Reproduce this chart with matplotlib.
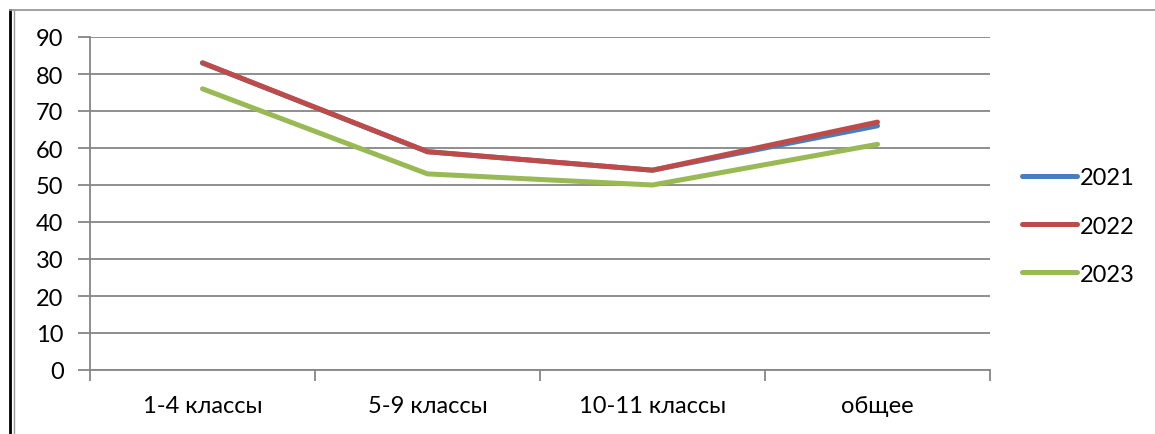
import matplotlib
matplotlib.use("Agg")
import matplotlib.pyplot as plt
from matplotlib.lines import Line2D

categories = ["1-4 классы", "5-9 классы", "10-11 классы", "общее"]
years = ["2021", "2022", "2023"]
v2021 = [83, 59, 54, 66]
v2022 = [83, 59, 54, 67]
v2023 = [76, 53, 50, 61]
series = [v2021, v2022, v2023]
colors = ["#4a7ebb", "#be4b48", "#98b954"]
yticks = [0, 10, 20, 30, 40, 50, 60, 70, 80, 90]

plt.rcParams['font.family'] = ['Lato', 'DejaVu Sans']
FS = 17

W, H = 1155, 435
fig = plt.figure(figsize=(W / 100, H / 100), dpi=100)
ax = fig.add_axes([90 / W, 1 - 371 / H, 900 / W, 333 / H])

x = list(range(len(categories)))
for vals, c, lab in zip(series, colors, years):
    ax.plot(x, vals, color=c, lw=3.6, solid_capstyle='round', label=lab, zorder=3)

ax.set_xlim(-0.5, len(categories) - 0.5)
ax.set_ylim(0, 90)
ax.set_yticks(yticks)
ax.set_yticklabels([str(t) for t in yticks], fontsize=FS)
ax.yaxis.grid(True, color="#868686", lw=1.3)
ax.set_axisbelow(True)

ax.set_xticks([i - 0.5 for i in range(len(categories) + 1)])
ax.set_xticklabels([])
ax.set_xticks(x, minor=True)
ax.set_xticklabels(categories, minor=True, fontsize=FS)
ax.tick_params(axis='x', which='major', length=8, color="#868686", width=1.3, direction='out')
ax.tick_params(axis='x', which='minor', length=0, pad=18)
ax.tick_params(axis='y', length=9, color="#868686", width=1.3, pad=10)

for s in ['top', 'right']:
    ax.spines[s].set_visible(False)
for s in ['left', 'bottom']:
    ax.spines[s].set_color("#868686")
    ax.spines[s].set_linewidth(1.3)

handles = [Line2D([0], [0], color=c, lw=3.6, solid_capstyle='round') for c in colors]
fig.legend(handles, years, loc='upper left', bbox_to_anchor=(1013 / W, 1 - 159 / H),
           frameon=False, fontsize=FS, handlelength=2.3, handletextpad=0.15,
           labelspacing=1.15, borderaxespad=0)

# outer frame
fig.add_artist(Line2D([10 / W, 10 / W], [0, 1 - 11 / H], color='black', lw=2.0))
fig.add_artist(Line2D([13.5 / W, 13.5 / W], [0, 1 - 11 / H], color='#9a9a9a', lw=1.0))
fig.add_artist(Line2D([10 / W, 1], [1 - 11 / H, 1 - 11 / H], color='#9a9a9a', lw=1.3))

fig.savefig("out.png", dpi=100)
